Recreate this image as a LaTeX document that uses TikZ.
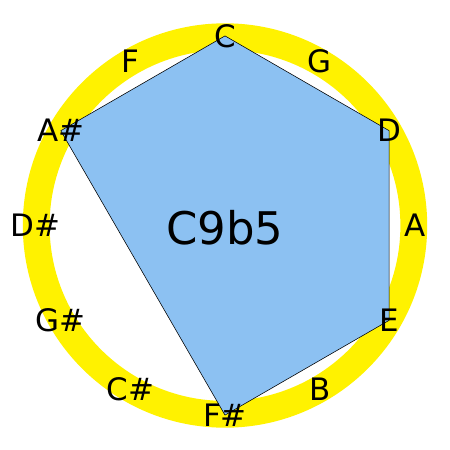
\documentclass[tikz,border=0pt]{standalone}
\usepackage{fontspec}
\setmainfont{DejaVu Sans}
\usetikzlibrary{backgrounds}
\definecolor{chordblue}{RGB}{140,193,242}

\begin{document}
\begin{tikzpicture}
\tikzstyle{every node}=[inner sep=0pt,font=\fontsize{22}{26}\selectfont];
\useasboundingbox (-5.625,-5.6125) rectangle (5.625,5.6375);
% note names round the circle
\foreach \name/\lab [count=\i from 0] in {C/C,G/G,D/D,A/A,E/E,B/B,Fs/F\#,Cs/C\#,Gs/G\#,Ds/D\#,As/A\#,F/F}
    \node (\name) at ({90-30*\i}:4.74) {\lab};
% chord name
\node[font=\fontsize{32}{38}\selectfont] (chord) at (0,-0.05) {C9b5};
\begin{pgfonlayer}{background}
%   ring
    \draw[yellow,line width=0.67cm] (0,0) circle (4.72);
%   chord polygon
    \filldraw[fill=chordblue,draw=black,line width=0.4pt]
        (C.center) -- (D.center) -- (E.center) -- (Fs.center) -- (As.center) -- cycle;
\end{pgfonlayer}
\end{tikzpicture}
\end{document}
